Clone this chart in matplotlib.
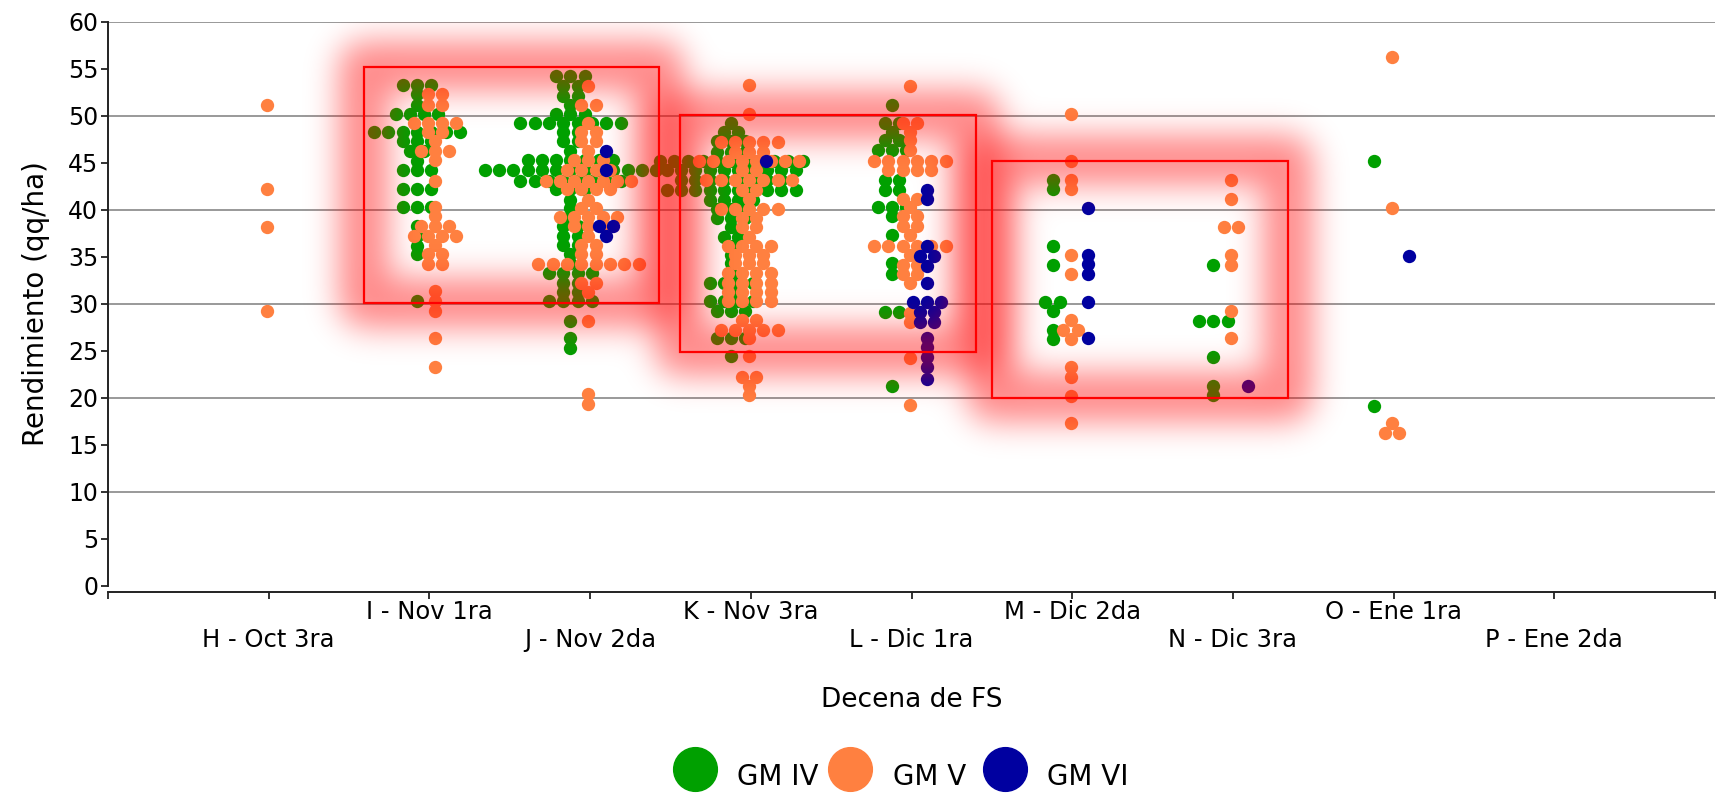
import matplotlib
matplotlib.use('Agg')
from matplotlib import pyplot as plt
from matplotlib.patches import Rectangle
from matplotlib.lines import Line2D
import numpy as np

plt.rcParams['font.family'] = ['DejaVu Sans']

categories = ['H - Oct 3ra', 'I - Nov 1ra', 'J - Nov 2da', 'K - Nov 3ra', 'L - Dic 1ra',
              'M - Dic 2da', 'N - Dic 3ra', 'O - Ene 1ra', 'P - Ene 2da']
groups = ['GM IV', 'GM V', 'GM VI']

# (rendimiento qq/ha, cantidad de lotes con ese valor)
gm5_H = [(51.2, 1), (42.2, 1), (38.2, 1), (29.2, 1)]

gm4_I = [(53.3, 3), (52.3, 1), (51.2, 1), (50.2, 4), (48.3, 7), (47.3, 3), (46.3, 2), (45.2, 1),
         (44.2, 3), (42.2, 3), (40.3, 3), (38.3, 1), (37.2, 1), (36.2, 1), (35.3, 1), (30.3, 1)]
gm5_I = [(52.3, 2), (51.2, 2), (49.2, 4), (48.3, 2), (47.3, 1), (46.3, 3), (45.3, 1), (43.1, 1),
         (40.3, 1), (39.3, 1), (38.3, 3), (37.2, 4), (36.3, 1), (35.3, 2), (34.2, 2), (31.4, 1),
         (30.3, 1), (29.2, 1), (26.3, 1), (23.3, 1)]

gm4_J = [(54.3, 3), (53.2, 2), (52.1, 2), (51.2, 1), (50.2, 3), (49.2, 8), (48.3, 2), (47.3, 2),
         (46.3, 1), (45.3, 7), (44.2, 13), (43.1, 8), (42.2, 3), (41.1, 1), (40.2, 1), (39.2, 1),
         (38.3, 2), (37.2, 2), (36.3, 2), (35.3, 1), (34.3, 1), (33.3, 4), (32.2, 2), (31.3, 2),
         (30.3, 4), (28.2, 1), (26.4, 1), (25.3, 1)]
gm5_J = [(53.2, 1), (51.2, 2), (49.2, 1), (48.3, 2), (47.3, 2), (46.3, 1), (45.3, 3), (44.2, 4),
         (43.1, 7), (42.2, 4), (41.1, 1), (40.2, 2), (39.2, 5), (38.3, 3), (37.2, 1), (36.3, 2),
         (35.3, 2), (34.2, 8), (32.2, 2), (31.3, 1), (28.2, 1), (20.4, 1), (19.3, 1)]
gm6_J = [(46.3, 1), (44.2, 1), (38.3, 2), (37.2, 1)]

gm4_K = [(49.2, 1), (48.3, 2), (47.3, 3), (46.2, 3), (45.2, 11), (44.2, 10), (43.2, 8), (42.1, 10),
         (41.1, 4), (40.1, 3), (39.1, 3), (38.2, 1), (37.1, 2), (36.2, 1), (35.2, 1), (34.3, 1),
         (33.3, 1), (32.2, 4), (31.3, 1), (30.3, 4), (29.2, 3), (26.3, 3), (24.4, 1)]
gm5_K = [(53.3, 1), (50.2, 1), (47.2, 5), (46.2, 3), (45.2, 8), (44.2, 2), (43.2, 7), (42.1, 2),
         (41.2, 1), (40.1, 5), (39.1, 2), (38.2, 2), (37.1, 1), (36.2, 4), (35.2, 3), (34.3, 3),
         (33.3, 4), (32.2, 4), (31.3, 4), (30.3, 4), (28.3, 2), (27.2, 5), (26.3, 1), (24.4, 1),
         (22.2, 2), (21.2, 1), (20.3, 1)]
gm6_K = [(45.2, 1)]

gm4_L = [(51.2, 1), (49.2, 2), (48.3, 1), (47.4, 2), (46.4, 3), (43.2, 2), (42.1, 2), (40.3, 3),
         (39.3, 1), (37.3, 1), (34.3, 1), (33.2, 1), (29.1, 2), (21.2, 1)]
gm5_L = [(53.2, 1), (49.2, 2), (48.3, 1), (47.4, 1), (46.4, 1), (45.2, 6), (44.2, 4), (41.2, 2),
         (40.3, 1), (39.3, 2), (38.3, 2), (37.3, 1), (36.2, 6), (35.2, 1), (34.1, 2), (33.2, 2),
         (32.2, 1), (29.0, 1), (28.1, 1), (24.2, 1), (19.2, 1)]
gm6_L = [(42.1, 1), (41.2, 1), (36.1, 1), (35.1, 2), (34.0, 1), (32.2, 1), (30.2, 3), (29.1, 2),
         (28.1, 2), (26.4, 1), (25.4, 1), (24.3, 1), (23.3, 1), (22.0, 1)]

gm4_M = [(43.2, 1), (42.2, 1), (36.2, 1), (34.1, 1), (30.2, 2), (29.2, 1), (27.2, 1), (26.2, 1)]
gm5_M = [(50.2, 1), (45.2, 1), (43.2, 1), (42.2, 1), (35.2, 1), (33.2, 1), (28.3, 1), (27.2, 2),
         (26.2, 1), (23.3, 1), (22.2, 1), (20.2, 1), (17.3, 1)]
gm6_M = [(40.2, 1), (35.2, 1), (34.2, 1), (33.2, 1), (30.2, 1), (26.3, 1)]

gm4_N = [(34.1, 1), (28.2, 3), (24.3, 1), (21.2, 1), (20.3, 1)]
gm5_N = [(43.2, 1), (41.2, 1), (38.2, 2), (35.2, 1), (34.1, 1), (29.2, 1), (26.3, 1)]
gm6_N = [(21.2, 1)]

gm4_O = [(45.2, 1), (19.1, 1)]
gm5_O = [(56.3, 1), (40.2, 1), (17.3, 1), (16.2, 2)]
gm6_O = [(35.1, 1)]

series = {
    'GM IV': {'I': gm4_I, 'J': gm4_J, 'K': gm4_K, 'L': gm4_L, 'M': gm4_M, 'N': gm4_N, 'O': gm4_O},
    'GM V': {'H': gm5_H, 'I': gm5_I, 'J': gm5_J, 'K': gm5_K, 'L': gm5_L, 'M': gm5_M, 'N': gm5_N,
             'O': gm5_O},
    'GM VI': {'J': gm6_J, 'K': gm6_K, 'L': gm6_L, 'M': gm6_M, 'N': gm6_N, 'O': gm6_O},
}

# zonas destacadas: (decena desde, decena hasta, rend. min, rend. max) en unidades del eje
highlight_boxes = [(1.595, 3.43, 30.05, 55.25), (3.56, 5.40, 24.85, 50.05), (5.50, 7.34, 20.0, 45.2)]

colors = {'GM IV': '#00a000', 'GM V': '#ff8040', 'GM VI': '#0000a0'}
group_offset = {'GM IV': -0.122, 'GM V': -0.01, 'GM VI': 0.097}
cat_nudge = {'I': 0.045}
dot_step = 0.089

W, H = 1729, 793
AX_L, AX_R, AX_T, AX_B = 108, 1715, 22, 585.5
XMAX, YMAX = 10, 60
fig = plt.figure(figsize=(W / 100, H / 100), dpi=100)
ax = fig.add_axes([AX_L / W, 1 - AX_B / H, (AX_R - AX_L) / W, (AX_B - AX_T) / H])
ax.set_xlim(0, XMAX)
ax.set_ylim(0, YMAX)

ax.hlines(np.arange(10, 61, 10), 0, XMAX, color='#999999', lw=1.4, zorder=1)

letter = {c: c[0] for c in categories}
for g in groups:
    for ci, cat in enumerate(categories):
        rows = series[g].get(letter[cat])
        if not rows:
            continue
        center = ci + 1 + group_offset[g] + cat_nudge.get(letter[cat], 0)
        xs, ys = [], []
        for val, n in rows:
            xs.extend(center + (np.arange(n) - (n - 1) / 2) * dot_step)
            ys.extend([val] * n)
        ax.scatter(xs, ys, s=92, color=colors[g], linewidths=0, zorder=3)


def blur(img, sigma):
    k = np.arange(-int(3 * sigma), int(3 * sigma) + 1)
    g = np.exp(-k ** 2 / (2 * sigma ** 2))
    g /= g.sum()
    img = np.apply_along_axis(np.convolve, 1, img, g, 'same')
    return np.apply_along_axis(np.convolve, 0, img, g, 'same')


# halo rojo difuso alrededor de cada zona (borde grueso desenfocado)
nx, ny = int(AX_R - AX_L), int(round(AX_B - AX_T))
px = np.arange(nx) + 0.5
py = np.arange(ny) + 0.5
PX, PY = np.meshgrid(px, py)
keep = np.ones((ny, nx))
for x0, x1, y0, y1 in highlight_boxes:
    bx0, bx1 = x0 / XMAX * nx, x1 / XMAX * nx
    by0, by1 = y0 / YMAX * ny, y1 / YMAX * ny
    dx = np.maximum.reduce([bx0 - PX, np.zeros_like(PX), PX - bx1])
    dy = np.maximum.reduce([by0 - PY, np.zeros_like(PY), PY - by1])
    d_out = np.hypot(dx, dy)
    d_in = np.minimum.reduce([PX - bx0, bx1 - PX, PY - by0, by1 - PY])
    d = np.where(d_out > 0, d_out, d_in)
    band = (d <= 25).astype(float)
    a = blur(band, 16) / 0.882 * 0.41
    keep *= 1 - np.clip(a, 0, 1)
glow = np.zeros((ny, nx, 4))
glow[..., 0] = 1.0
glow[..., 3] = 1 - keep
ax.imshow(glow, extent=(0, XMAX, 0, YMAX), origin='lower', aspect='auto',
          interpolation='nearest', zorder=5)
for x0, x1, y0, y1 in highlight_boxes:
    ax.add_patch(Rectangle((x0, y0), x1 - x0, y1 - y0, fill=False, ec='#ff0000',
                           lw=1.6, zorder=6))
ax.set_xlim(0, XMAX)
ax.set_ylim(0, YMAX)

for s in ['top', 'right']:
    ax.spines[s].set_visible(False)
ax.spines['left'].set_bounds(0, 60)
ax.spines['bottom'].set_position(('outward', 4.7))
for s in ['left', 'bottom']:
    ax.spines[s].set_linewidth(1.4)
    ax.spines[s].set_color('#222222')

ax.set_yticks(np.arange(0, 61, 5))
ax.set_xticks(np.arange(0, 11))
ax.set_xticklabels([])
ax.tick_params(axis='both', length=5, width=1.3, color='#222222')
ax.tick_params(axis='y', labelsize=17, pad=2)

for ci, cat in enumerate(categories):
    ypix = 612 if ci % 2 == 1 else 640
    ax.text(ci + 1, (AX_B - ypix) / (AX_B - AX_T), cat, transform=ax.get_xaxis_transform(),
            ha='center', va='center', fontsize=17.5)

ax.text(5, (AX_B - 700) / (AX_B - AX_T), 'Decena de FS', transform=ax.get_xaxis_transform(),
        ha='center', va='center', fontsize=19)
fig.text(36 / W, 1 - 304 / H, 'Rendimiento (qq/ha)', rotation=90, ha='center', va='center',
         fontsize=20)

# leyenda
for g, mx, tx in zip(groups, [694.5, 850, 1005], [737, 893, 1047]):
    fig.add_artist(Line2D([mx / W], [1 - 769.4 / H], marker='o', markersize=31.5, ls='none',
                          color=colors[g], transform=fig.transFigure))
    fig.text(tx / W, 1 - 777 / H, g, ha='left', va='center', fontsize=20)

fig.savefig('out.png', dpi=100)
